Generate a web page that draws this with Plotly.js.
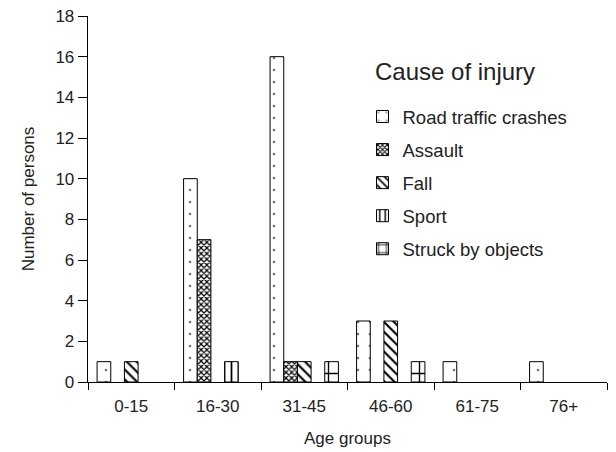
<!DOCTYPE html>
<html><head><meta charset="utf-8">
<script src="https://cdn.plot.ly/plotly-3.0.1.min.js"></script>
<style>html,body{margin:0;padding:0;background:#fff}</style>
</head><body><div id="chart" style="width:616px;height:452px"></div>
<script>
const ageGroups = ["0-15","16-30","31-45","46-60","61-75","76+"];
const seriesNames = ["Road traffic crashes","Assault","Fall","Sport","Struck by objects"];
const roadTraffic = [1,10,16,3,1,1];
const assault = [0,7,1,0,0,0];
const fall = [1,0,1,3,0,0];
const sport = [0,1,0,0,0,0];
const struck = [0,0,1,1,0,0];
const values = [roadTraffic, assault, fall, sport, struck];
const patterns = [
  {shape:".", size:12, solidity:0.04, fgcolor:"#777"},
  {shape:"x", size:4, solidity:0.5, fgcolor:"#000"},
  {shape:"\\", size:7, solidity:0.3, fgcolor:"#000"},
  {shape:"|", size:7, solidity:0.25, fgcolor:"#000"},
  {shape:"+", size:13, solidity:0.2, fgcolor:"#000"}
];
const traces = seriesNames.map((n,i)=>({
  type:"bar", name:n, x:ageGroups, y:values[i].map(v => v === 0 ? null : v), legendgroup:"g"+i,
  marker:{color:"#ffffff", line:{color:"#000", width:1},
    pattern:Object.assign({bgcolor:"#fff", fillmode:"replace"}, patterns[i])}
}));
const layout = {
  width:616, height:452,
  margin:{l:88, r:9, t:16, b:70},
  paper_bgcolor:"#fff", plot_bgcolor:"#fff",
  font:{family:"Liberation Sans, Arial, sans-serif", size:17, color:"#222"},
  barmode:"group", bargap:0.21, bargroupgap:0,
  xaxis:{type:"category", showline:true, linecolor:"#000", linewidth:1.3, ticks:"outside", ticklen:7,
    tickson:"boundaries", tickcolor:"#000", showgrid:false, zeroline:false, ticklabelstandoff:8,
    title:{text:"Age groups", font:{size:17}, standoff:17}, tickfont:{size:17}},
  yaxis:{range:[0,18], dtick:2, showline:true, linecolor:"#000", linewidth:1.3, ticks:"outside", ticklen:9,
    tickcolor:"#000", showgrid:false, zeroline:false,
    title:{text:"Number of persons", font:{size:17}, standoff:16}, tickfont:{size:17}},
  legend:{x:(362.5-88)/519, y:1-(98-16)/366, xanchor:"left", yanchor:"top", bgcolor:"rgba(0,0,0,0)",
    traceorder:"grouped", tracegroupgap:6, font:{size:18.5}},
  annotations:[{text:"Cause of injury", xref:"paper", yref:"paper", x:(373-88)/519, y:1-(72-16)/366,
    xanchor:"left", yanchor:"middle", showarrow:false, font:{size:24}}],
  showlegend:true
};
Plotly.newPlot("chart", traces, layout, {displayModeBar:false, staticPlot:true});
</script></body></html>
